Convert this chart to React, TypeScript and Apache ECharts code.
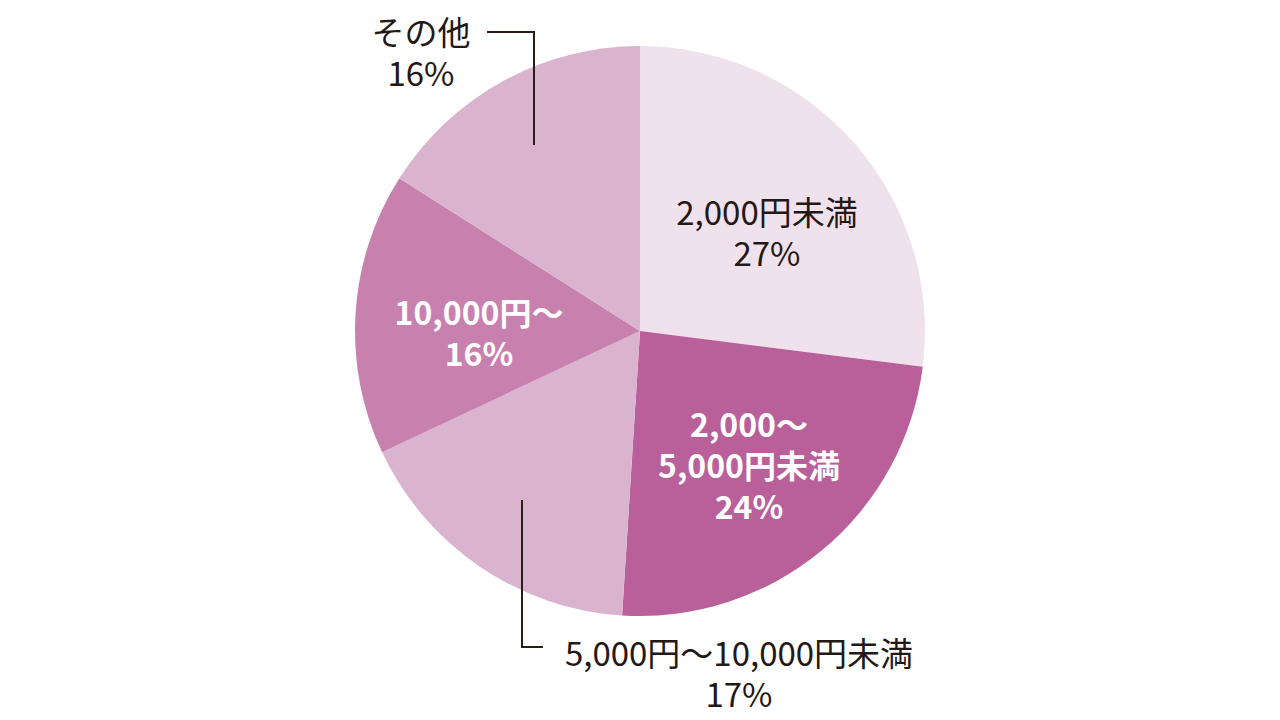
import React, { useEffect, useRef } from "react";
import * as echarts from "echarts";

const categories = ["2,000円未満", "2,000〜\n5,000円未満", "5,000円〜10,000円未満", "10,000円〜", "その他"];
const values = [27, 24, 17, 16, 16];
const colors = ["#f0e2ed", "#b9609a", "#dab3cf", "#c881ae", "#dab3cf"];
const labelColors = ["#231815", "#ffffff", "#231815", "#ffffff", "#231815"];
const labelWeights = ["normal", "bold", "normal", "bold", "normal"];

// label layout (positions only)
const labelPos: { x: number; y: number; size: number; line?: number[][] }[] = [
  { x: 767, y: 231, size: 33 },
  { x: 749, y: 464, size: 32 },
  { x: 739, y: 672, size: 33, line: [[522, 500], [522, 647], [543, 647]] },
  { x: 479, y: 331, size: 32 },
  { x: 421, y: 51, size: 33, line: [[534, 145], [534, 32], [487, 32]] },
];

export default function App() {
  const ref = useRef<HTMLDivElement>(null);
  useEffect(() => {
    if (!ref.current) return;
    const chart = echarts.init(ref.current, undefined, { renderer: "svg" });
    chart.setOption({
      animation: false,
      backgroundColor: "#ffffff",
      graphic: labelPos
        .filter((p) => p.line)
        .map((p) => ({
          type: "polyline",
          z: 100,
          shape: { points: p.line },
          style: { stroke: "#2b1d16", lineWidth: 2, fill: null },
          silent: true,
        })),
      series: [
        {
          type: "pie",
          center: [640, 331],
          radius: [0, 285],
          startAngle: 90,
          clockwise: true,
          avoidLabelOverlap: false,
          itemStyle: { borderWidth: 0 },
          emphasis: { disabled: true },
          labelLine: { show: false },
          data: categories.map((c, i) => ({
            name: c,
            value: values[i],
            itemStyle: { color: colors[i] },
            label: {
              show: true,
              position: labelPos[i].line ? "outside" : "inside",
              formatter: "{b}\n{c}%",
              color: labelColors[i],
              fontWeight: labelWeights[i] as any,
              fontSize: labelPos[i].size,
              lineHeight: 41,
              fontFamily: "Noto Sans CJK JP",
              align: "center",
            },
            labelLine: { show: false },
          })),
          labelLayout: (params: any) => {
            const p = labelPos[params.dataIndex];
            return { x: p.x, y: p.y, align: "center", verticalAlign: "middle" };
          },
        },
      ],
    });
    return () => chart.dispose();
  }, []);
  return (
    <div
      ref={ref}
      style={{ position: "absolute", left: 0, top: 0, width: 1280, height: 720 }}
    />
  );
}
